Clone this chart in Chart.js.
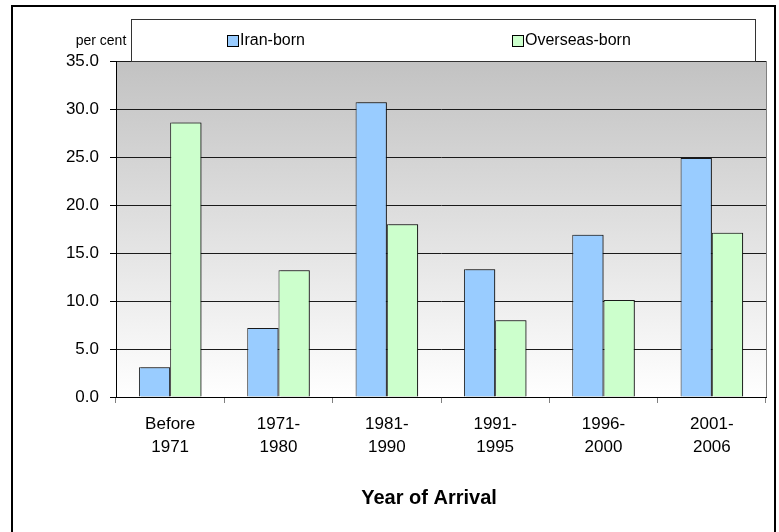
<!DOCTYPE html>
<html>
<head>
<meta charset="utf-8">
<script src="https://cdn.jsdelivr.net/npm/chart.js@4"></script>
<style>
  html, body { margin: 0; padding: 0; background: #ffffff; }
  #wrap { width: 779px; height: 532px; }
</style>
</head>
<body>
<div id="wrap"><canvas id="c" width="779" height="532"></canvas></div>
<script>
const categories = [["Before","1971"],["1971-","1980"],["1981-","1990"],["1991-","1995"],["1996-","2000"],["2001-","2006"]];
const iranBorn = [3.1, 7.2, 30.7, 13.3, 16.9, 24.9];
const overseasBorn = [28.6, 13.2, 18.0, 8.0, 10.1, 17.1];
const seriesNames = ["Iran-born", "Overseas-born"];
const seriesColors = ["#99CCFF", "#CCFFCC"];
const yTicks = [0, 5, 10, 15, 20, 25, 30, 35];
const yUnit = "per cent";
const xTitle = "Year of Arrival";

const FONT = "'Liberation Sans', Arial, sans-serif";

const decor = {
  id: 'decor',
  beforeDraw(chart) {
    const ctx = chart.ctx;
    const a = chart.chartArea;
    ctx.save();
    ctx.fillStyle = '#ffffff';
    ctx.fillRect(0, 0, chart.width, chart.height);
    const g = ctx.createLinearGradient(0, a.top, 0, a.bottom);
    g.addColorStop(0, '#c2c2c2');
    g.addColorStop(1, '#ffffff');
    ctx.fillStyle = g;
    ctx.fillRect(a.left, a.top, a.right - a.left, a.bottom - a.top);
    // outer frame
    ctx.strokeStyle = '#000000';
    ctx.lineWidth = 2;
    ctx.strokeRect(12, 6, 763, 560);
    ctx.restore();
  },
  beforeDatasetsDraw(chart) {
    const ctx = chart.ctx;
    ctx.save();
    ctx.shadowColor = 'rgba(0,0,0,0.45)';
    ctx.shadowOffsetX = 2;
    ctx.shadowOffsetY = 0;
    ctx.shadowBlur = 0;
  },
  afterDatasetsDraw(chart) {
    chart.ctx.restore();
  },
  afterDraw(chart) {
    const ctx = chart.ctx;
    const a = chart.chartArea;
    ctx.save();
    // right border of plot
    ctx.strokeStyle = '#808080';
    ctx.lineWidth = 1;
    ctx.beginPath();
    ctx.moveTo(Math.round(a.right) + 0.5, a.top);
    ctx.lineTo(Math.round(a.right) + 0.5, a.bottom);
    ctx.stroke();
    // legend box
    ctx.fillStyle = '#ffffff';
    ctx.fillRect(131, 19, 624, 42);
    ctx.strokeStyle = '#333333';
    ctx.strokeRect(131.5, 19.5, 624, 42);
    const items = [[227, 0], [512, 1]];
    ctx.font = '16px ' + FONT;
    ctx.textBaseline = 'middle';
    ctx.textAlign = 'left';
    items.forEach(([x, i]) => {
      ctx.fillStyle = seriesColors[i];
      ctx.fillRect(x, 35, 11, 11);
      ctx.strokeStyle = '#000000';
      ctx.strokeRect(x + 0.5, 35.5, 11, 11);
      ctx.fillStyle = '#000000';
      ctx.fillText(seriesNames[i], x + 13, 41);
    });
    // unit label
    ctx.font = '14px ' + FONT;
    ctx.textAlign = 'center';
    ctx.fillText(yUnit, 101, 41);
    // x title
    ctx.font = 'bold 20px ' + FONT;
    ctx.fillText(xTitle, 429, 498);
    ctx.restore();
  }
};

new Chart(document.getElementById('c'), {
  type: 'bar',
  data: {
    labels: categories,
    datasets: [
      { label: seriesNames[0], data: iranBorn, backgroundColor: seriesColors[0], borderColor: '#1a1a1a', borderWidth: 1, categoryPercentage: 0.577, barPercentage: 1.0 },
      { label: seriesNames[1], data: overseasBorn, backgroundColor: seriesColors[1], borderColor: '#1a1a1a', borderWidth: 1, categoryPercentage: 0.577, barPercentage: 1.0 }
    ]
  },
  options: {
    responsive: false,
    animation: false,
    devicePixelRatio: 1,
    layout: { padding: { left: 0, right: 13, top: 61, bottom: 0 } },
    plugins: { legend: { display: false }, tooltip: { enabled: false } },
    scales: {
      x: {
        offset: true,
        grid: { offset: true, drawOnChartArea: false, drawTicks: true, tickLength: 6, color: '#808080' },
        border: { display: true, color: '#000000', width: 1 },
        ticks: { color: '#000000', font: { family: FONT, size: 17, lineHeight: 1.4 }, padding: 9, maxRotation: 0, autoSkip: false },
        afterFit(scale) { scale.height = 135; }
      },
      y: {
        min: 0, max: 35,
        afterBuildTicks(scale) { scale.ticks = yTicks.map(v => ({ value: v })); },
        grid: { color: '#1a1a1a', lineWidth: 1, drawTicks: true, tickLength: 6, tickColor: '#000000' },
        border: { display: true, color: '#000000', width: 1 },
        ticks: { color: '#000000', font: { family: FONT, size: 17 }, padding: 11, callback: v => Number(v).toFixed(1) },
        afterFit(scale) { scale.width = 116; }
      }
    }
  },
  plugins: [decor]
});
</script>
</body>
</html>
